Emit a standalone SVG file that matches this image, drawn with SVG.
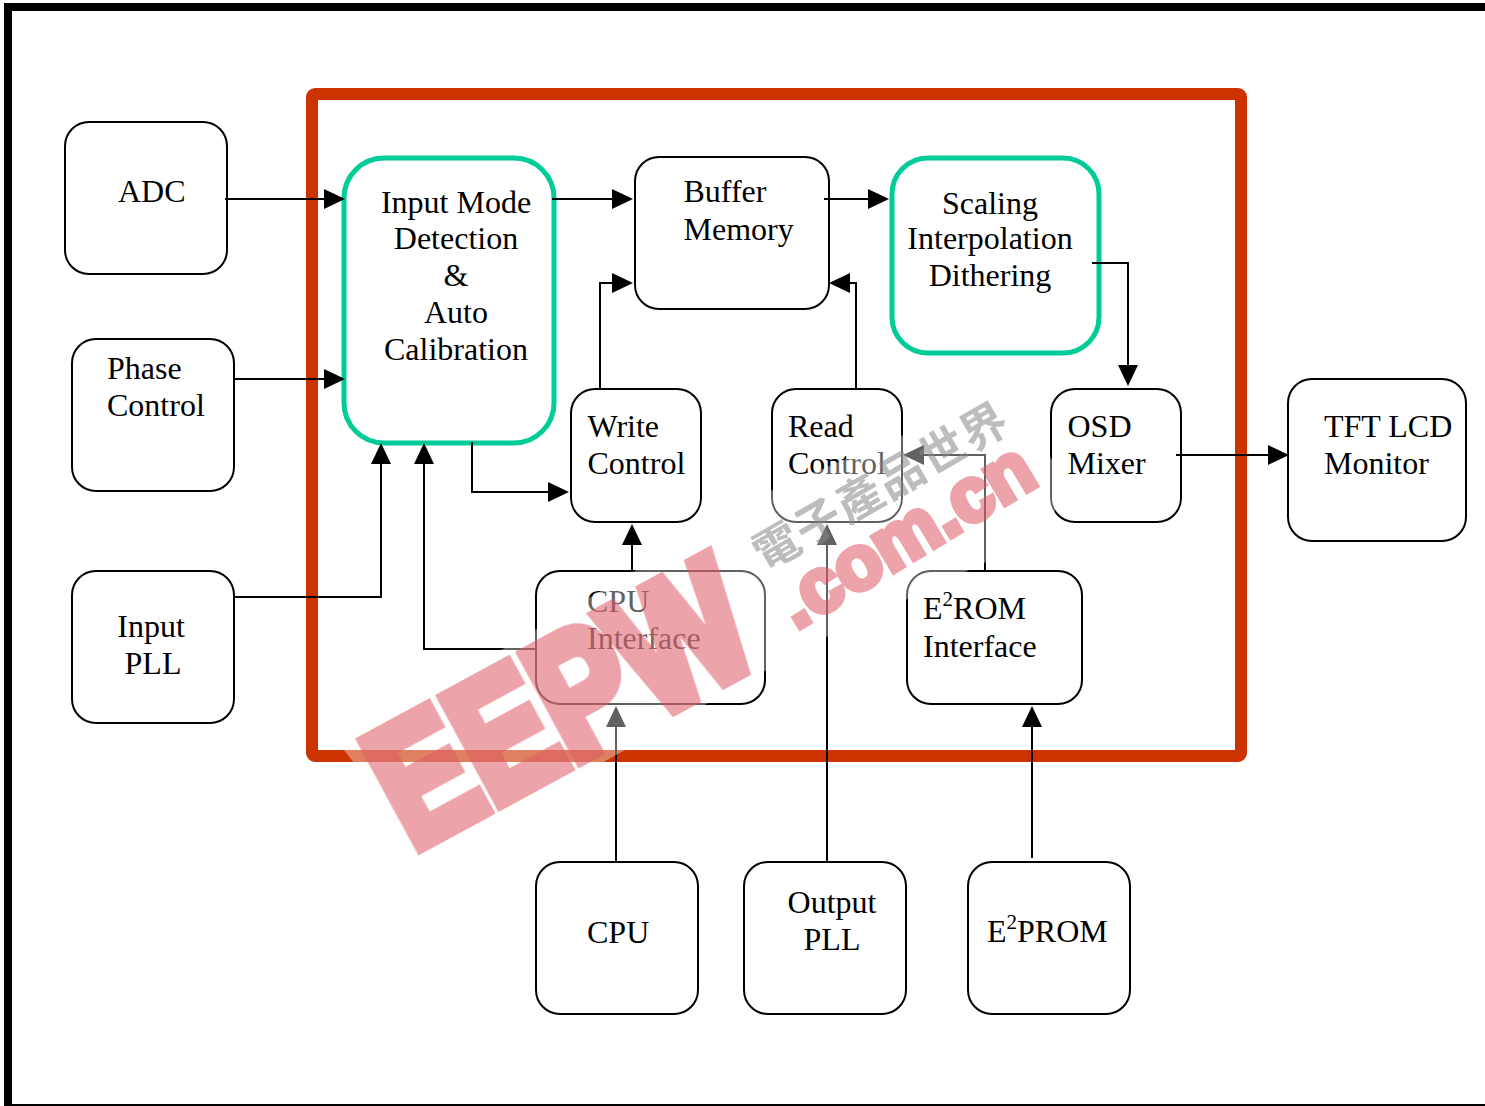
<svg xmlns="http://www.w3.org/2000/svg" width="1485" height="1106" viewBox="0 0 1485 1106">
<style>
.n{fill:#fff;stroke:#000;stroke-width:2}
.t{fill:none;stroke:#00cc99;stroke-width:5}
text{font-family:"Liberation Serif","Times New Roman",serif;font-size:32px;fill:#000}
.m{text-anchor:middle}
.s{font-size:21px}
.c path{fill:none;stroke:#000;stroke-width:2}
.c path.h{fill:#000;stroke:none}
.w{font-family:"Liberation Sans",Arial,sans-serif;font-weight:bold;fill:#dc5a64;stroke:#dc5a64;stroke-linejoin:miter}
.z{font-family:"Noto Sans CJK TC","Noto Sans CJK SC",sans-serif;font-weight:bold;font-size:46px;fill:#888}
</style>
<rect width="1485" height="1106" fill="#fff"/>
<path id="frame" d="M1485 7H8V1106" fill="none" stroke="#000" stroke-width="8"/>
<path d="M12 1105H1485" stroke="#000" stroke-width="2"/>
<rect id="chip" x="312" y="94" width="929" height="662" rx="3" fill="none" stroke="#cc3300" stroke-width="12"/>
<g id="n-adc"><rect class="n" x="65" y="122" width="162" height="152" rx="24"/><text x="118" y="202">ADC</text></g>
<g id="n-phase"><rect class="n" x="72" y="339" width="162" height="152" rx="24"/><text x="107" y="379">Phase</text><text x="107" y="416">Control</text></g>
<g id="n-pll"><rect class="n" x="72" y="571" width="162" height="152" rx="24"/><text class="m" x="151" y="637">Input</text><text class="m" x="153" y="674">PLL</text></g>
<g id="n-imd"><rect class="t" x="344" y="158" width="210" height="285" rx="40" fill="#fff"/>
<text class="m" x="456" y="213">Input Mode</text><text class="m" x="456" y="249">Detection</text><text class="m" x="456" y="286">&amp;</text><text class="m" x="456" y="323">Auto</text><text class="m" x="456" y="360">Calibration</text></g>
<g id="n-buf"><rect class="n" x="635" y="157" width="194" height="152" rx="24"/><text x="683.500" y="202">Buffer</text><text x="683.500" y="240">Memory</text></g>
<g id="n-scale"><rect class="t" x="892" y="158" width="207" height="195" rx="36" fill="#fff"/><text class="m" x="990" y="214">Scaling</text><text class="m" x="990" y="249">Interpolation</text><text class="m" x="990" y="286">Dithering</text></g>
<g id="n-write"><rect class="n" x="571" y="389" width="130" height="133" rx="24"/><text x="587.500" y="437">Write</text><text x="587.500" y="474">Control</text></g>
<g id="n-read"><rect class="n" x="772" y="389" width="130" height="133" rx="24"/><text x="788" y="437">Read</text><text x="788" y="474">Control</text></g>
<g id="n-osd"><rect class="n" x="1051" y="389" width="130" height="133" rx="24"/><text x="1067.500" y="437">OSD</text><text x="1067.500" y="474">Mixer</text></g>
<g id="n-tft"><rect class="n" x="1288" y="379" width="178" height="162" rx="24"/><text x="1324" y="437">TFT LCD</text><text x="1324" y="474">Monitor</text></g>
<g id="n-cpui"><rect class="n" x="536" y="571" width="229" height="133" rx="24"/><text x="587" y="612">CPU</text><text x="587" y="649">Interface</text></g>
<g id="n-rom"><rect class="n" x="907" y="571" width="175" height="133" rx="24"/><text x="923" y="619">E<tspan class="s" dy="-13">2</tspan><tspan dy="13">ROM</tspan></text><text x="923" y="657">Interface</text></g>
<g id="n-cpu"><rect class="n" x="536" y="862" width="162" height="152" rx="24"/><text x="587" y="943">CPU</text></g>
<g id="n-opll"><rect class="n" x="744" y="862" width="162" height="152" rx="24"/><text class="m" x="832" y="913">Output</text><text class="m" x="832" y="950">PLL</text></g>
<g id="n-prom"><rect class="n" x="968" y="862" width="162" height="152" rx="24"/><text x="987" y="942">E<tspan class="s" dy="-13">2</tspan><tspan dy="13">PROM</tspan></text></g>
<g id="connectors" class="c">
<path d="M225 199H326"/><path class="h" d="M345 199L324 189V209Z"/>
<path d="M233 379H326"/><path class="h" d="M345 379L324 369V389Z"/>
<path d="M234 597H381V462"/><path class="h" d="M381 443L371 464H391Z"/>
<path d="M536 649H424V462"/><path class="h" d="M424 443L414 464H434Z"/>
<path d="M472 442V492H550"/><path class="h" d="M569 492L548 482V502Z"/>
<path d="M552 199H614"/><path class="h" d="M633 199L612 189V209Z"/>
<path d="M824 199H870"/><path class="h" d="M889 199L868 189V209Z"/>
<path d="M600 388V283H614"/><path class="h" d="M633 283L612 273V293Z"/>
<path d="M856 388V283H848"/><path class="h" d="M829 283L850 273V293Z"/>
<path d="M1092 263H1128V367"/><path class="h" d="M1128 386L1118 365H1138Z"/>
<path d="M1176 455H1270"/><path class="h" d="M1289 455L1268 445V465Z"/>
<path d="M632 571V543"/><path class="h" d="M632 524L622 545H642Z"/>
<path d="M985 571V455H922"/><path class="h" d="M903 455L924 445V465Z"/>
<path d="M616 862V725"/><path class="h" d="M616 706L606 727H626Z"/>
<path d="M827 862V543"/><path class="h" d="M827 524L817 545H837Z"/>
<path d="M1032 858V725"/><path class="h" d="M1032 706L1022 727H1042Z"/>
</g>
<polygon id="halo" points="340,745 772,490 1010,390 1055,465 1055,530 820,640 430,860" fill="#fff" opacity="0.38"/>
<g id="watermark" opacity="0.55">
<text class="w" transform="translate(412 851) rotate(-28.5)" stroke-width="14" textLength="402" lengthAdjust="spacingAndGlyphs" style="font-size:172px">EEPW</text>
<text class="w" transform="translate(796 630) rotate(-31)" stroke-width="6" textLength="285" lengthAdjust="spacingAndGlyphs" style="font-size:76px">.com.cn</text>
<text class="z" transform="translate(765 572) rotate(-30)" textLength="285" lengthAdjust="spacing">電子產品世界</text>
</g>
</svg>
